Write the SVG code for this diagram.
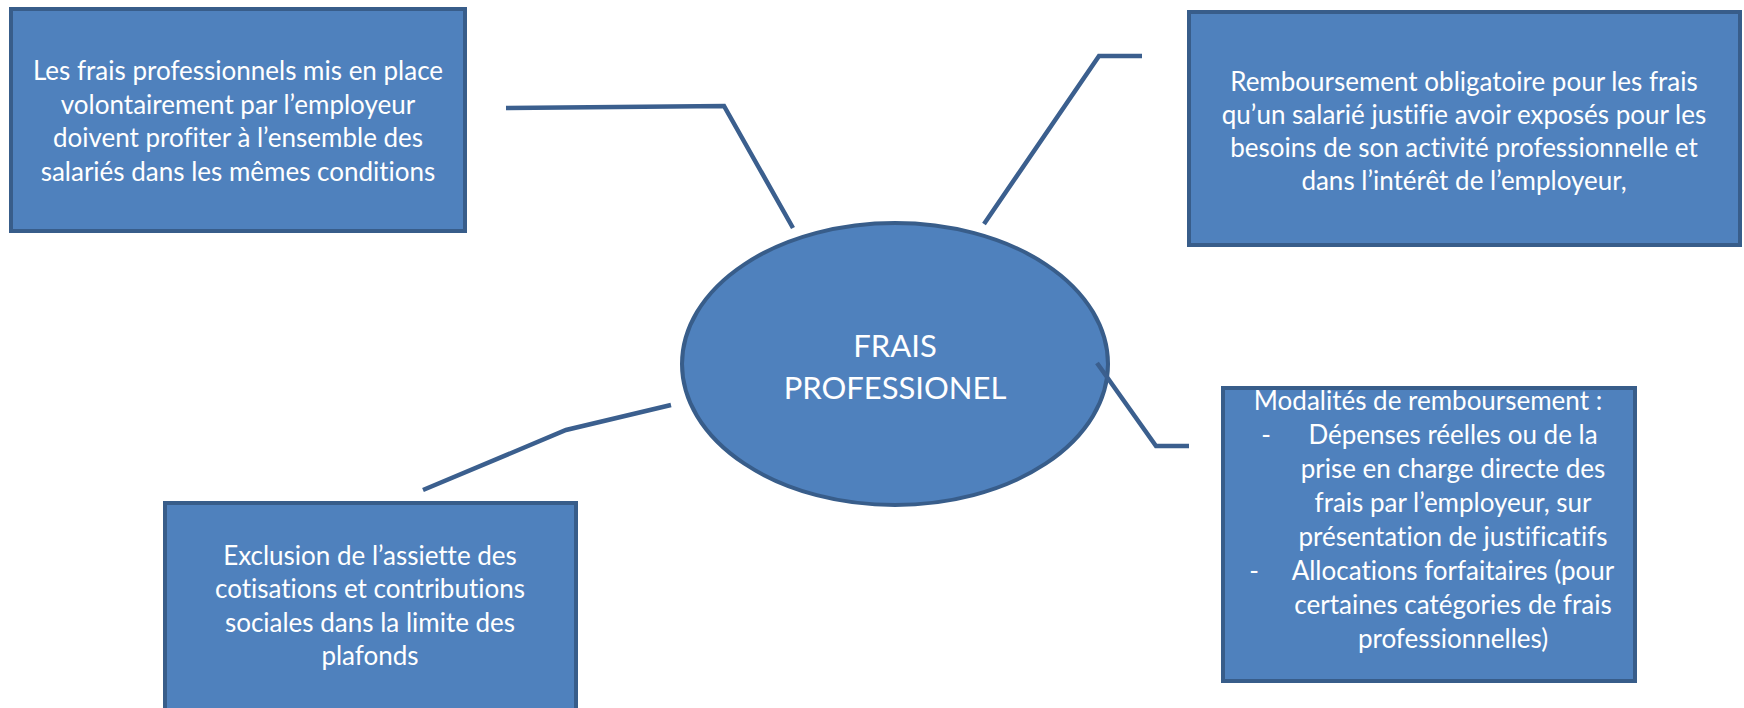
<svg xmlns="http://www.w3.org/2000/svg" width="1744" height="708" viewBox="0 0 1744 708">
<style>
.box{fill:#4F81BD;stroke:#385D8A;stroke-width:4}
.t{font-family:Lato,"Liberation Sans",sans-serif;font-size:26px;fill:#FFFFFF;text-anchor:middle;font-variant-ligatures:none}
.tc{font-family:Lato,"Liberation Sans",sans-serif;font-size:31px;fill:#FFFFFF;text-anchor:middle;font-variant-ligatures:none}
.c{fill:none;stroke:#3B5F8E;stroke-width:4.5;stroke-linejoin:miter}
</style>
<rect width="1744" height="708" fill="#FFFFFF"/>
<g id="center">
<ellipse class="box" cx="895" cy="364" rx="213" ry="141"/>
<text class="tc" x="895" y="357">FRAIS</text>
<text class="tc" x="895" y="399">PROFESSIONEL</text>
</g>
<g id="connectors">
<polyline class="c" points="506,108 724,106 793,228"/>
<polyline class="c" points="984,224 1099,56 1142,56"/>
<polyline class="c" points="1097,363 1156,446 1189,446"/>
<polyline class="c" points="671,405 566,430 423,490"/>
</g>
<g id="box-top-left">
<rect class="box" x="11" y="9" width="454" height="222"/>
<text class="t" x="238" y="80">Les frais professionnels mis en place</text>
<text class="t" x="238" y="113.5">volontairement par l’employeur</text>
<text class="t" x="238" y="147">doivent profiter à l’ensemble des</text>
<text class="t" x="238" y="180.5">salariés dans les mêmes conditions</text>
</g>
<g id="box-top-right">
<rect class="box" x="1189" y="12" width="551" height="233"/>
<text class="t" x="1464" y="91">Remboursement obligatoire pour les frais</text>
<text class="t" x="1464" y="124">qu’un salarié justifie avoir exposés pour les</text>
<text class="t" x="1464" y="157">besoins de son activité professionnelle et</text>
<text class="t" x="1464" y="190">dans l’intérêt de l’employeur,</text>
</g>
<g id="box-bottom-right">
<rect class="box" x="1223" y="388" width="412" height="293"/>
<text class="t" x="1428" y="410">Modalités de remboursement :</text>
<text class="t" x="1266" y="444">-</text>
<text class="t" x="1453" y="444">Dépenses réelles ou de la</text>
<text class="t" x="1453" y="478">prise en charge directe des</text>
<text class="t" x="1453" y="512">frais par l’employeur, sur</text>
<text class="t" x="1453" y="546">présentation de justificatifs</text>
<text class="t" x="1254" y="580">-</text>
<text class="t" x="1453" y="580">Allocations forfaitaires (pour</text>
<text class="t" x="1453" y="614">certaines catégories de frais</text>
<text class="t" x="1453" y="648">professionnelles)</text>
</g>
<g id="box-bottom-left">
<rect class="box" x="165" y="503" width="411" height="220"/>
<text class="t" x="370" y="565">Exclusion de l’assiette des</text>
<text class="t" x="370" y="598">cotisations et contributions</text>
<text class="t" x="370" y="632">sociales dans la limite des</text>
<text class="t" x="370" y="665">plafonds</text>
</g>
</svg>
